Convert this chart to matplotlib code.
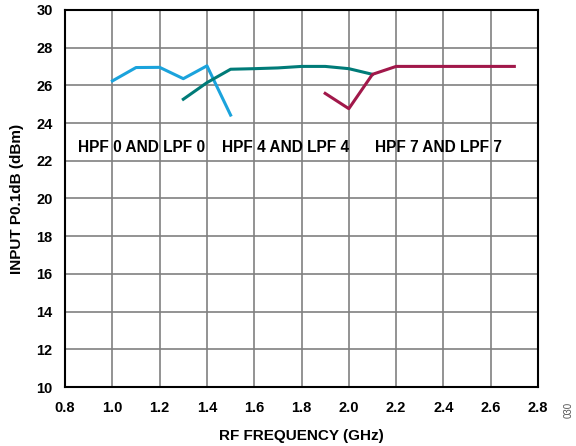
import matplotlib.pyplot as plt
import numpy as np

plt.rcParams['font.family'] = ['Liberation Sans', 'DejaVu Sans']

# HPF 0 AND LPF 0
freq_0 = [1.0, 1.1, 1.2, 1.3, 1.4, 1.5]
p01_0 = [26.23, 26.94, 26.95, 26.35, 27.03, 24.42]
# HPF 4 AND LPF 4
freq_4 = [1.3, 1.4, 1.5, 1.6, 1.7, 1.8, 1.9, 2.0, 2.1]
p01_4 = [25.26, 26.14, 26.85, 26.88, 26.92, 27.0, 27.0, 26.88, 26.58]
# HPF 7 AND LPF 7
freq_7 = [1.9, 2.0, 2.1, 2.2, 2.3, 2.4, 2.5, 2.6, 2.7]
p01_7 = [25.57, 24.76, 26.58, 27.0, 27.0, 27.0, 27.0, 27.0, 27.0]

labels = ["HPF 0 AND LPF 0", "HPF 4 AND LPF 4", "HPF 7 AND LPF 7"]
label_x = [0.855, 1.465, 2.11]

fig = plt.figure(figsize=(5.76, 4.46), dpi=100)
ax = fig.add_axes([0.113, 0.132, 0.821, 0.846])

ax.plot(freq_0, p01_0, color='#1ba3dc', lw=2.2)
ax.plot(freq_4, p01_4, color='#007b78', lw=2.2)
ax.plot(freq_7, p01_7, color='#a1184a', lw=2.2)

for x, t in zip(label_x, labels):
    ax.text(x, 22.7, t, fontsize=11.2, fontweight='bold', va='center', ha='left')

ax.set_xlim(0.8, 2.8)
ax.set_ylim(10, 30)
ax.set_xticks(np.arange(0.8, 2.81, 0.2))
ax.set_yticks(np.arange(10, 31, 2))
ax.set_xticklabels([f"{v:.1f}" for v in np.arange(0.8, 2.81, 0.2)])
ax.grid(True, color='#808080', lw=1.2)
ax.tick_params(direction='in', length=0, labelsize=10.5)
ax.tick_params(axis='x', pad=10)
ax.tick_params(axis='y', pad=9)
for lab in ax.get_xticklabels() + ax.get_yticklabels():
    lab.set_fontweight('bold')
for s in ax.spines.values():
    s.set_linewidth(1.5)
    s.set_color('black')

ax.set_xlabel("RF FREQUENCY (GHz)", fontsize=11, fontweight='bold', labelpad=10)
ax.set_ylabel("INPUT P0.1dB (dBm)", fontsize=11, fontweight='bold', labelpad=9)

fig.text(0.988, 0.08, "030", rotation=90, fontsize=7, color='#555555', ha='center', va='center')

fig.savefig("out.png", dpi=100)
